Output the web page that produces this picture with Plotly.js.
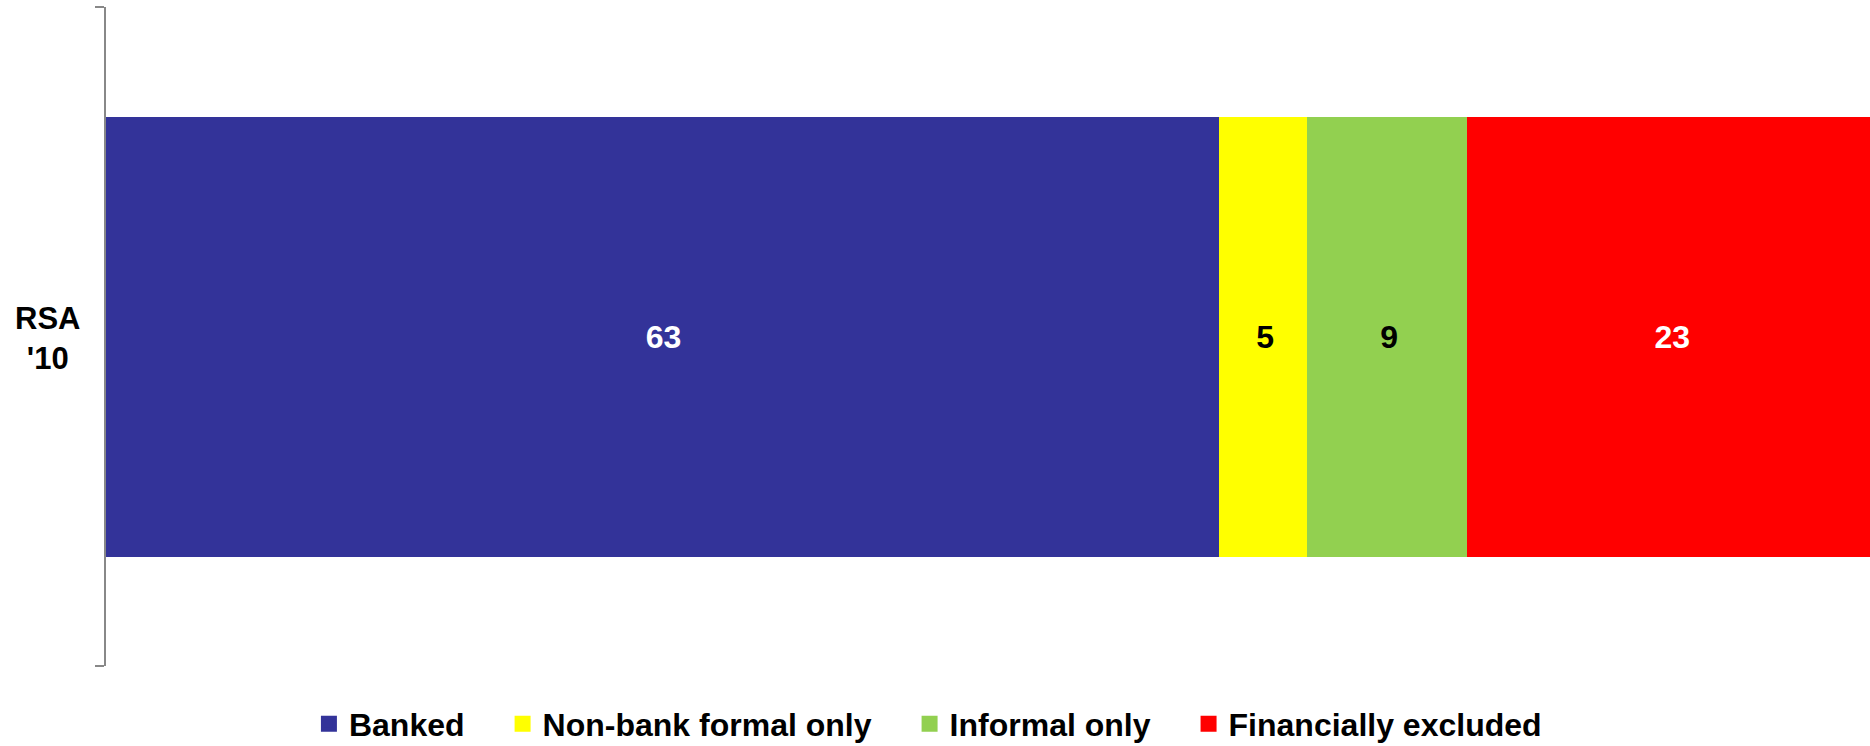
<!DOCTYPE html>
<html>
<head>
<meta charset="utf-8">
<script src="https://cdn.plot.ly/plotly-3.0.1.min.js"></script>
<style>
html, body { margin: 0; padding: 0; background: #fff; }
#chart { width: 1870px; height: 746px; }
</style>
</head>
<body>
<div id="chart"></div>
<script>
const categories = ["RSA<br>'10"];
const seriesNames = ["Banked", "Non-bank formal only", "Informal only", "Financially excluded"];
const banked = [63];
const nonBankFormal = [5];
const informalOnly = [9];
const excluded = [23];
const seriesValues = [banked, nonBankFormal, informalOnly, excluded];
const seriesColors = ["#333399", "#FFFF00", "#92D050", "#FF0000"];
const labelColors = ["#FFFFFF", "#000000", "#000000", "#FFFFFF"];

const FONT = "Liberation Sans, Arial, Helvetica, sans-serif";
const PAD = "\u00A0\u2009\u00A0\u00A0";

const traces = seriesValues.map((vals, i) => ({
  type: "bar",
  orientation: "h",
  name: seriesNames[i] + PAD,
  y: categories,
  x: vals,
  text: vals.map(v => String(v)),
  textposition: "inside",
  insidetextanchor: "middle",
  textangle: 0,
  insidetextfont: { family: FONT, size: 32, color: labelColors[i], weight: "bold" },
  marker: { color: seriesColors[i], line: { color: seriesColors[i], width: 4 } },
  hoverinfo: "skip"
}));

const layout = {
  width: 1870,
  height: 746,
  margin: { l: 106, r: 0, t: 7, b: 80 },
  paper_bgcolor: "#ffffff",
  plot_bgcolor: "#ffffff",
  barmode: "stack",
  bargap: 0.3384,
  showlegend: true,
  font: { family: FONT, color: "#000000" },
  xaxis: {
    range: [0, 99.67],
    visible: false,
    fixedrange: true
  },
  yaxis: {
    type: "category",
    range: [-0.5, 0.5],
    showline: true,
    linecolor: "#888888",
    linewidth: 2,
    ticks: "outside",
    tickson: "boundaries",
    ticklen: 9,
    tickcolor: "#888888",
    tickwidth: 2,
    showticklabels: false,
    showgrid: false,
    zeroline: false,
    fixedrange: true
  },
  legend: {
    orientation: "h",
    xref: "container",
    yref: "container",
    x: 0.1652,
    xanchor: "left",
    y: 0.0295,
    yanchor: "middle",
    traceorder: "normal",
    font: { family: FONT, size: 32, color: "#000000", weight: "bold" },
    bgcolor: "rgba(0,0,0,0)"
  },
  annotations: [{
    xref: "paper",
    yref: "y",
    x: -0.0329,
    y: categories[0],
    xanchor: "center",
    yanchor: "middle",
    yshift: -2,
    text: categories[0],
    showarrow: false,
    align: "center",
    font: { family: FONT, size: 31, color: "#000000", weight: "bold" }
  }]
};

Plotly.newPlot("chart", traces, layout, { displayModeBar: false, staticPlot: true });
</script>
</body>
</html>
